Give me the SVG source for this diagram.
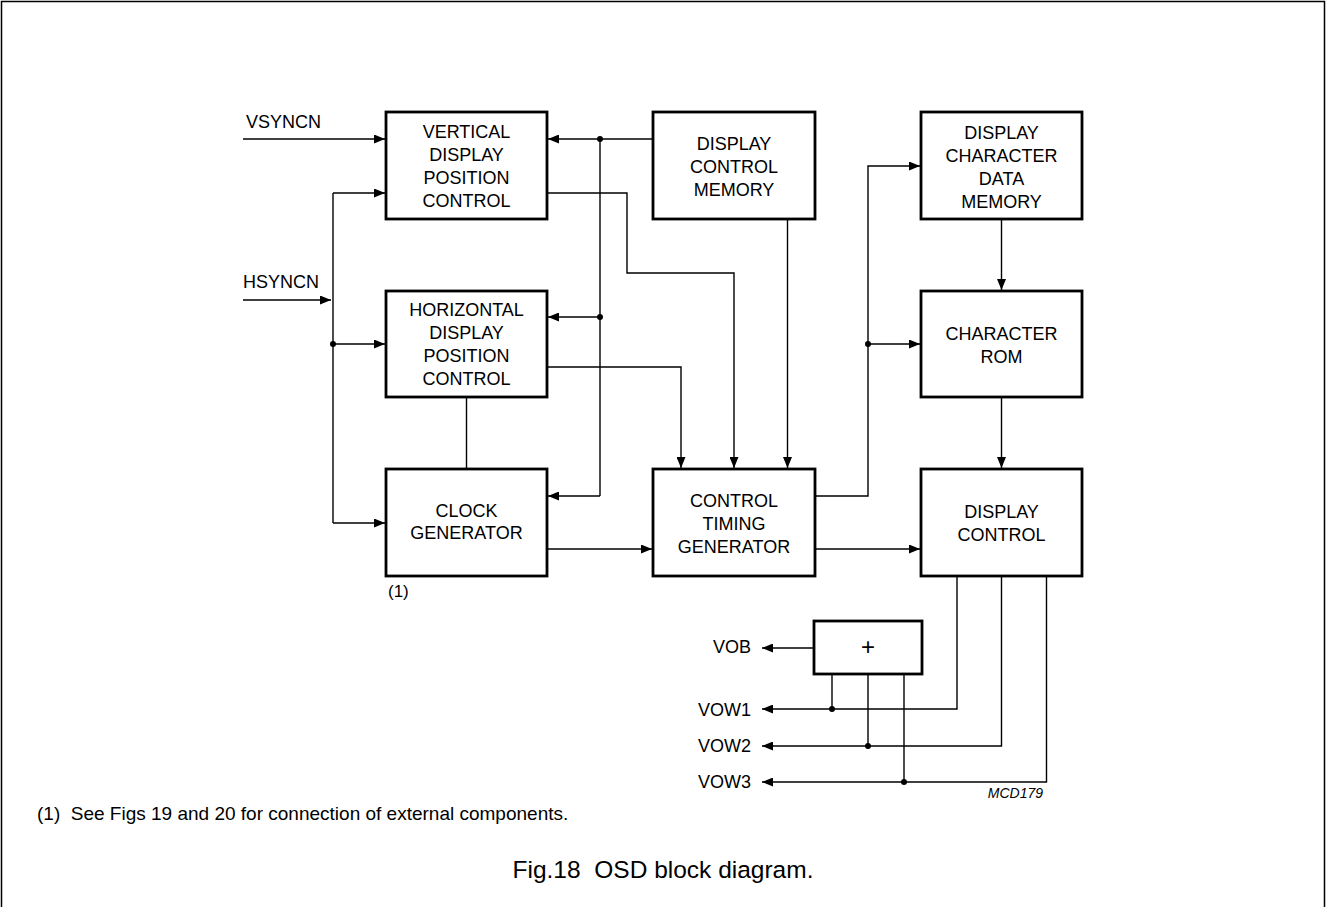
<svg xmlns="http://www.w3.org/2000/svg" width="1326" height="907" viewBox="0 0 1326 907">
<style>
.box{fill:#fff;stroke:#000;stroke-width:2.8}
.t{font-family:"Liberation Sans",Arial,sans-serif;font-size:18px;fill:#000;text-anchor:middle}
.l{font-family:"Liberation Sans",Arial,sans-serif;font-size:18px;fill:#000}
.c{fill:none;stroke:#000;stroke-width:1.4}
.a{marker-end:url(#arr)}
</style>
<defs>
<marker id="arr" viewBox="0 0 11 9" refX="11" refY="4.5" markerWidth="11" markerHeight="9" markerUnits="userSpaceOnUse" orient="auto">
<path d="M0,0 L11,4.5 L0,9 z" fill="#000"/>
</marker>
</defs>
<rect width="1326" height="907" fill="#fff"/>
<path d="M1.5,907 V1.5 H1324.5 V907" fill="none" stroke="#000" stroke-width="1.5"/>

<g id="connectors">
<path class="c a" d="M243,139 H385"/>
<path class="c a" d="M243,300 H331"/>
<path class="c" d="M333,193 V523"/>
<path class="c a" d="M333,193 H385"/>
<path class="c a" d="M333,344 H385"/>
<path class="c a" d="M333,523 H385"/>
<path class="c a" d="M653,139 H548"/>
<path class="c" d="M600,139 V496"/>
<path class="c a" d="M600,317 H548"/>
<path class="c a" d="M600,496 H548"/>
<path class="c a" d="M547,193 H627 V273 H734 V468"/>
<path class="c a" d="M547,367 H681 V468"/>
<path class="c a" d="M787.5,219 V468"/>
<path class="c" d="M466.5,397 V469"/>
<path class="c a" d="M547,549 H652"/>
<path class="c a" d="M815,549 H920"/>
<path class="c a" d="M815,496 H868 V166 H920"/>
<path class="c a" d="M868,344 H920"/>
<path class="c a" d="M1001.5,219 V290"/>
<path class="c a" d="M1001.5,397 V468"/>
<path class="c a" d="M957,576 V709 H762"/>
<path class="c a" d="M1001.5,576 V746 H762"/>
<path class="c a" d="M1046.5,576 V782 H762"/>
<path class="c" d="M832,674 V709"/>
<path class="c" d="M868,674 V746"/>
<path class="c" d="M904,674 V782"/>
<path class="c a" d="M814,648 H762"/>
<g fill="#000">
<circle cx="333" cy="344" r="3"/>
<circle cx="600" cy="139" r="3"/>
<circle cx="600" cy="317" r="3"/>
<circle cx="868" cy="344" r="3"/>
<circle cx="832" cy="709" r="3"/>
<circle cx="868" cy="746" r="3"/>
<circle cx="904" cy="782" r="3"/>
</g>
</g>

<g id="vdpc">
<rect class="box" x="386" y="112" width="161" height="107"/>
<text class="t" x="466.5" y="137.5">VERTICAL</text>
<text class="t" x="466.5" y="160.5">DISPLAY</text>
<text class="t" x="466.5" y="183.5">POSITION</text>
<text class="t" x="466.5" y="206.5">CONTROL</text>
</g>
<g id="hdpc">
<rect class="box" x="386" y="291" width="161" height="106"/>
<text class="t" x="466.5" y="316">HORIZONTAL</text>
<text class="t" x="466.5" y="339">DISPLAY</text>
<text class="t" x="466.5" y="362">POSITION</text>
<text class="t" x="466.5" y="385">CONTROL</text>
</g>
<g id="clock">
<rect class="box" x="386" y="469" width="161" height="107"/>
<text class="t" x="466.5" y="517">CLOCK</text>
<text class="t" x="466.5" y="539">GENERATOR</text>
</g>
<g id="dcm">
<rect class="box" x="653" y="112" width="162" height="107"/>
<text class="t" x="734" y="149.5">DISPLAY</text>
<text class="t" x="734" y="172.5">CONTROL</text>
<text class="t" x="734" y="195.5">MEMORY</text>
</g>
<g id="ctg">
<rect class="box" x="653" y="469" width="162" height="107"/>
<text class="t" x="734" y="506.5">CONTROL</text>
<text class="t" x="734" y="529.5">TIMING</text>
<text class="t" x="734" y="552.5">GENERATOR</text>
</g>
<g id="dcdm">
<rect class="box" x="921" y="112" width="161" height="107"/>
<text class="t" x="1001.5" y="138.5">DISPLAY</text>
<text class="t" x="1001.5" y="161.5">CHARACTER</text>
<text class="t" x="1001.5" y="184.5">DATA</text>
<text class="t" x="1001.5" y="207.5">MEMORY</text>
</g>
<g id="charrom">
<rect class="box" x="921" y="291" width="161" height="106"/>
<text class="t" x="1001.5" y="340">CHARACTER</text>
<text class="t" x="1001.5" y="363">ROM</text>
</g>
<g id="dispctrl">
<rect class="box" x="921" y="469" width="161" height="107"/>
<text class="t" x="1001.5" y="518">DISPLAY</text>
<text class="t" x="1001.5" y="541">CONTROL</text>
</g>
<g id="plus">
<rect class="box" x="814" y="621" width="108" height="53"/>
<text class="t" x="868" y="655" style="font-size:24px">+</text>
</g>

<g id="labels">
<text class="l" x="246" y="128">VSYNCN</text>
<text class="l" x="243" y="288">HSYNCN</text>
<text class="l" x="751" y="653" text-anchor="end">VOB</text>
<text class="l" x="751" y="716" text-anchor="end">VOW1</text>
<text class="l" x="751" y="752" text-anchor="end">VOW2</text>
<text class="l" x="751" y="788" text-anchor="end">VOW3</text>
<text class="l" x="1043" y="798" text-anchor="end" style="font-size:14px;font-style:italic">MCD179</text>
<text class="l" x="388" y="597" style="font-size:17px">(1)</text>
<text class="l" x="37" y="820" style="font-size:19px" xml:space="preserve">(1)  See Figs 19 and 20 for connection of external components.</text>
<text class="l" x="663" y="878" text-anchor="middle" style="font-size:24.5px" xml:space="preserve">Fig.18  OSD block diagram.</text>
</g>
</svg>
